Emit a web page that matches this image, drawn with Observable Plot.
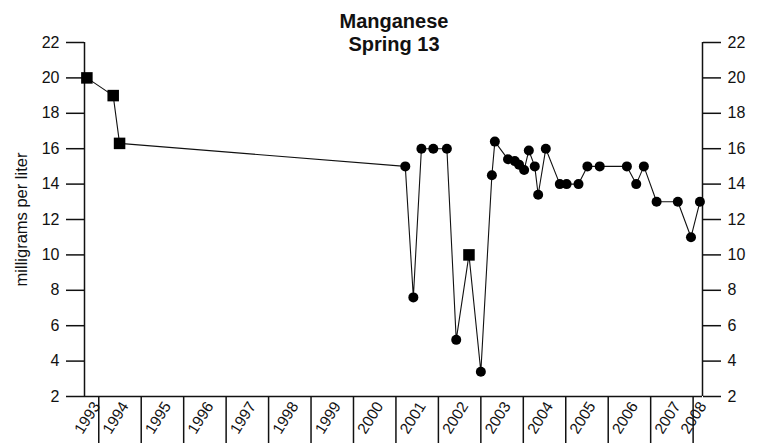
<!DOCTYPE html>
<html>
<head>
<meta charset="utf-8">
<script src="https://cdn.jsdelivr.net/npm/d3@7"></script>
<script src="https://cdn.jsdelivr.net/npm/@observablehq/plot@0.6"></script>
<style>
  html, body { margin: 0; padding: 0; background: #fff; }
  #wrap { position: relative; width: 761px; height: 443px; font-family: "Liberation Sans", Arial, sans-serif; }
  #title { position: absolute; top: 10px; left: 244px; width: 300px; text-align: center; font-weight: bold; font-size: 20px; line-height: 23px; color: #111; }
  #chart svg { display: block; }
</style>
</head>
<body>
<div id="wrap">
  <div id="chart"></div>
  <div id="title">Manganese<br>Spring 13</div>
</div>
<script>
// Sample dates (decimal years), values (mg/L), and marker type
const dates = [1993.72, 1994.34, 1994.49, 2001.22, 2001.41, 2001.60, 2001.88, 2002.20, 2002.42, 2002.72,
  2003.00, 2003.26, 2003.33, 2003.64, 2003.80, 2003.90, 2004.02, 2004.13, 2004.27, 2004.35,
  2004.53, 2004.86, 2005.02, 2005.30, 2005.51, 2005.80, 2006.44, 2006.66, 2006.84, 2007.14,
  2007.64, 2007.95, 2008.16];
const values = [20, 19, 16.3, 15, 7.6, 16, 16, 16, 5.2, 10,
  3.4, 14.5, 16.4, 15.4, 15.3, 15.1, 14.8, 15.9, 15, 13.4,
  16, 14, 14, 14, 15, 15, 15, 14, 15, 13,
  13, 11, 13];
const markers = ["square", "square", "square", "circle", "circle", "circle", "circle", "circle", "circle", "square",
  "circle", "circle", "circle", "circle", "circle", "circle", "circle", "circle", "circle", "circle",
  "circle", "circle", "circle", "circle", "circle", "circle", "circle", "circle", "circle", "circle",
  "circle", "circle", "circle"];

const xDomain = [1993.664, 2008.221];
const yDomain = [2, 22];
const yTicks = [2, 4, 6, 8, 10, 12, 14, 16, 18, 20, 22];
const yearTicks = [1994, 1995, 1996, 1997, 1998, 1999, 2000, 2001, 2002, 2003, 2004, 2005, 2006, 2007, 2008];
const yearLabels = [1993, 1994, 1995, 1996, 1997, 1998, 1999, 2000, 2001, 2002, 2003, 2004, 2005, 2006, 2007, 2008];
const yLabel = "milligrams per liter";

const data = dates.map((d, i) => ({date: d, value: values[i], marker: markers[i]}));
const labelData = yearLabels.map(y => ({
  year: y,
  mid: (Math.max(y, xDomain[0]) + Math.min(y + 1, xDomain[1])) / 2
}));

const chart = Plot.plot({
  width: 761,
  height: 443,
  marginLeft: 84,
  marginRight: 59,
  marginTop: 42,
  marginBottom: 47,
  style: {fontFamily: "Liberation Sans, Arial, sans-serif", fontSize: "16px", color: "#111", background: "white", overflow: "visible"},
  x: {domain: xDomain},
  y: {domain: yDomain},
  marks: [
    Plot.axisY({anchor: "left", ticks: yTicks, tickSize: 18, tickPadding: 7, fontSize: 16, strokeWidth: 1.5, label: null}),
    Plot.axisY({anchor: "right", ticks: yTicks, tickSize: 18, tickPadding: 7, fontSize: 16, strokeWidth: 1.5, label: null}),
    Plot.axisX({anchor: "bottom", ticks: yearTicks, tickSize: 50, strokeWidth: 1.5, tickFormat: () => "", label: null}),
    Plot.text(labelData, {x: "mid", frameAnchor: "bottom", dy: 24, text: d => String(d.year), rotate: -58, fontSize: 15.5, textAnchor: "middle"}),
    Plot.text([yLabel], {frameAnchor: "left", dx: -63, rotate: -90, text: d => d, fontSize: 16.5, textAnchor: "middle"}),
    Plot.ruleX([xDomain[0], xDomain[1]], {strokeWidth: 1.5}),
    Plot.ruleY([yDomain[0]], {strokeWidth: 1.5}),
    Plot.line(data, {x: "date", y: "value", stroke: "#111", strokeWidth: 1.1}),
    Plot.dot(data.filter(d => d.marker === "circle"), {x: "date", y: "value", r: 5, fill: "#000", stroke: null}),
    Plot.dot(data.filter(d => d.marker === "square"), {x: "date", y: "value", symbol: "square", r: 6.5, fill: "#000", stroke: null})
  ]
});
document.getElementById("chart").appendChild(chart);
</script>
</body>
</html>
